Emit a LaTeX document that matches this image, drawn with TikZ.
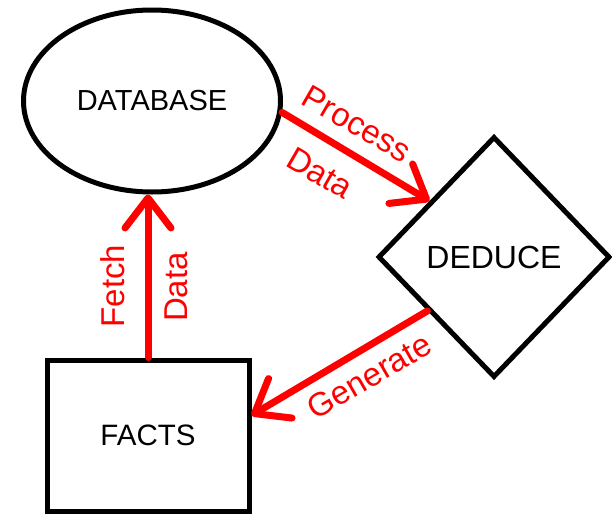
\documentclass[tikz,border=0pt]{standalone}
\usepackage{fontspec}
\setmainfont{Liberation Sans}
\usetikzlibrary{shapes.geometric,arrows.meta,calc}
\begin{document}
\begin{tikzpicture}[x=1pt,y=-1pt,
  shapeline/.style={draw=black,line width=5pt,inner sep=0pt,fill=white},
  redarrow/.style={draw=red,line width=7pt,line cap=round,line join=round,
    -{Straight Barb[length=30pt,width=46pt,line cap=round,line join=round]}},
  redlabel/.style={text=red,font=\fontsize{33}{38}\selectfont,inner sep=0pt}]
\useasboundingbox (0,0) rectangle (612,514);
\node[shapeline, ellipse, minimum width=257pt, minimum height=182pt,
      font=\fontsize{29}{34}\selectfont] (db) at (152,101) {DATABASE};
\node[shapeline, diamond, minimum width=232pt, minimum height=241pt,
      font=\fontsize{32}{36}\selectfont] (dd) at (494,257) {DEDUCE};
\node[shapeline, rectangle, minimum width=202pt, minimum height=151pt,
      font=\fontsize{29.5}{34}\selectfont] (facts) at (148,435.5) {FACTS};
\draw[redarrow] (db.-5) -- (dd.139);
\draw[redarrow] (facts.north) -- (facts.north |- db.south);
\draw[redarrow] (dd.-141) -- (facts.11);
\node[redlabel, rotate=-30] (lp) at (357,124) {Process};
\node[redlabel, rotate=-30] (ld1) at (320,173) {Data};
\node[redlabel, rotate=90] (lf) at (113,286) {Fetch};
\node[redlabel, rotate=90] (ld2) at (176,287) {Data};
\node[redlabel, rotate=30] (lg) at (369,376) {Generate};
\end{tikzpicture}
\end{document}
